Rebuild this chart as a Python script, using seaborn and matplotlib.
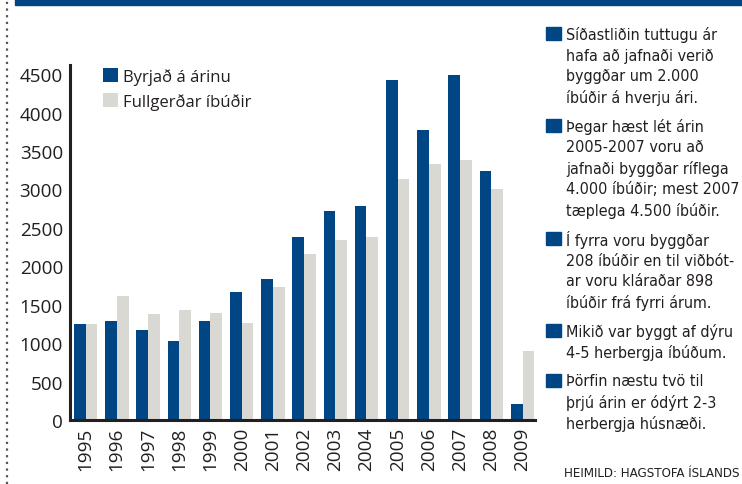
import numpy as np
import pandas as pd
import matplotlib
matplotlib.use("Agg")
import matplotlib.pyplot as plt
import seaborn as sns
from matplotlib import font_manager as fm
from matplotlib.patches import Rectangle
from matplotlib.lines import Line2D

# data
years = [str(y) for y in range(1995, 2010)]
started = [1250, 1290, 1170, 1030, 1290, 1660, 1830, 2380, 2720, 2780, 4430, 3780, 4490, 3240, 208]
finished = [1250, 1620, 1380, 1430, 1390, 1260, 1730, 2160, 2340, 2380, 3130, 3330, 3390, 3000, 898]
series_names = ["Byrjað á árinu", "Fullgerðar íbúðir"]
y_ticks = list(range(0, 5000, 500))

notes = [
    ["Síðastliðin tuttugu ár", "hafa að jafnaði verið", "byggðar um 2.000", "íbúðir á hverju ári."],
    ["Þegar hæst lét árin", "2005-2007 voru að", "jafnaði byggðar ríflega", "4.000 íbúðir; mest 2007", "tæplega 4.500 íbúðir."],
    ["Í fyrra voru byggðar", "208 íbúðir en til viðbót-", "ar voru kláraðar 898", "íbúðir frá fyrri árum."],
    ["Mikið var byggt af dýru", "4-5 herbergja íbúðum."],
    ["Þörfin næstu tvö til", "þrjú árin er ódýrt 2-3", "herbergja húsnæði."],
]
source = "HEIMILD: HAGSTOFA ÍSLANDS"

BLUE = "#004685"
GREY = "#d9d8d3"
INK = "#231f20"

df = pd.DataFrame({
    "year": years * 2,
    "value": started + finished,
    "series": [series_names[0]] * len(years) + [series_names[1]] * len(years),
})

sns.set_style("white")
plt.rcParams["font.family"] = ["Open Sans", "DejaVu Sans"]

# pick a narrow face for the side notes if one is installed
installed = {(f.name, str(f.stretch)) for f in fm.fontManager.ttflist}
names = {n for n, _ in installed}
if "Liberation Sans Narrow" in names:
    note_font = dict(family=["Liberation Sans Narrow", "DejaVu Sans"])
elif any(n == "DejaVu Sans" and "condensed" in s for n, s in installed):
    note_font = dict(family=["DejaVu Sans"], stretch="condensed")
else:
    note_font = dict(family=["Roboto", "DejaVu Sans"])

W, H = 742, 485
fig = plt.figure(figsize=(W / 100, H / 100), dpi=100)
ax = fig.add_axes([70 / W, (H - 421) / H, 465 / W, 355 / H])

sns.barplot(data=df, x="year", y="value", hue="series", palette=[BLUE, GREY],
            width=0.75, saturation=1, ax=ax, linewidth=0)

ax.set_xlim(-0.5, len(years) - 1 + 0.4)
ax.set_ylim(0, 4620)
ax.set_yticks(y_ticks)
ax.set_xlabel("")
ax.set_ylabel("")
ax.tick_params(axis="both", length=0, labelsize=13.6, colors=INK, pad=5)
ax.tick_params(axis="x", labelrotation=90)
for s in ["top", "right"]:
    ax.spines[s].set_visible(False)
ax.spines["left"].set_color(INK)
ax.spines["left"].set_linewidth(2.2)
ax.spines["bottom"].set_color(INK)
ax.spines["bottom"].set_linewidth(2.2)

handles, labels = ax.get_legend_handles_labels()
ax.legend(handles, labels, loc="upper left", bbox_to_anchor=(103 / W, 1 - 69 / H),
          bbox_transform=fig.transFigure, frameon=False, borderpad=0, borderaxespad=0,
          handlelength=0.9, handleheight=0.9, handletextpad=0.3, labelspacing=0.5,
          prop={"size": 12}, labelcolor=INK)

# header band and dotted margin
fig.patches.append(Rectangle((15 / W, 1 - 6 / H), 1, 6 / H, transform=fig.transFigure,
                             color=BLUE, zorder=0))
fig.lines.append(Line2D([7 / W, 7 / W], [0, 1], transform=fig.transFigure,
                        color="#555555", linestyle=(0, (1, 2)), linewidth=1.6))

# size the notes so the widest line fits the column
renderer = fig.canvas.get_renderer()
def fit_size(text, width_px, base=10):
    probe = fig.text(0, 0, text, size=base, **note_font)
    w = probe.get_window_extent(renderer).width
    probe.remove()
    return base * width_px / w

note_size = min(13, fit_size("4.000 íbúðir; mest 2007", 174))
source_size = min(11, fit_size(source, 178))

line_h, gap = 21, 8
y = 35
for para in notes:
    fig.patches.append(Rectangle((546 / W, 1 - (y + 6) / H), 15 / W, 13 / H,
                                 transform=fig.transFigure, color=BLUE))
    for i, line in enumerate(para):
        fig.text(566 / W, 1 - (y + i * line_h) / H, line, size=note_size,
                 color=INK, va="center", ha="left", **note_font)
    y += len(para) * line_h + gap

fig.text(740 / W, 1 - 474 / H, source, size=source_size, color=INK,
         va="center", ha="right", **note_font)

fig.savefig("out.png", dpi=100)
